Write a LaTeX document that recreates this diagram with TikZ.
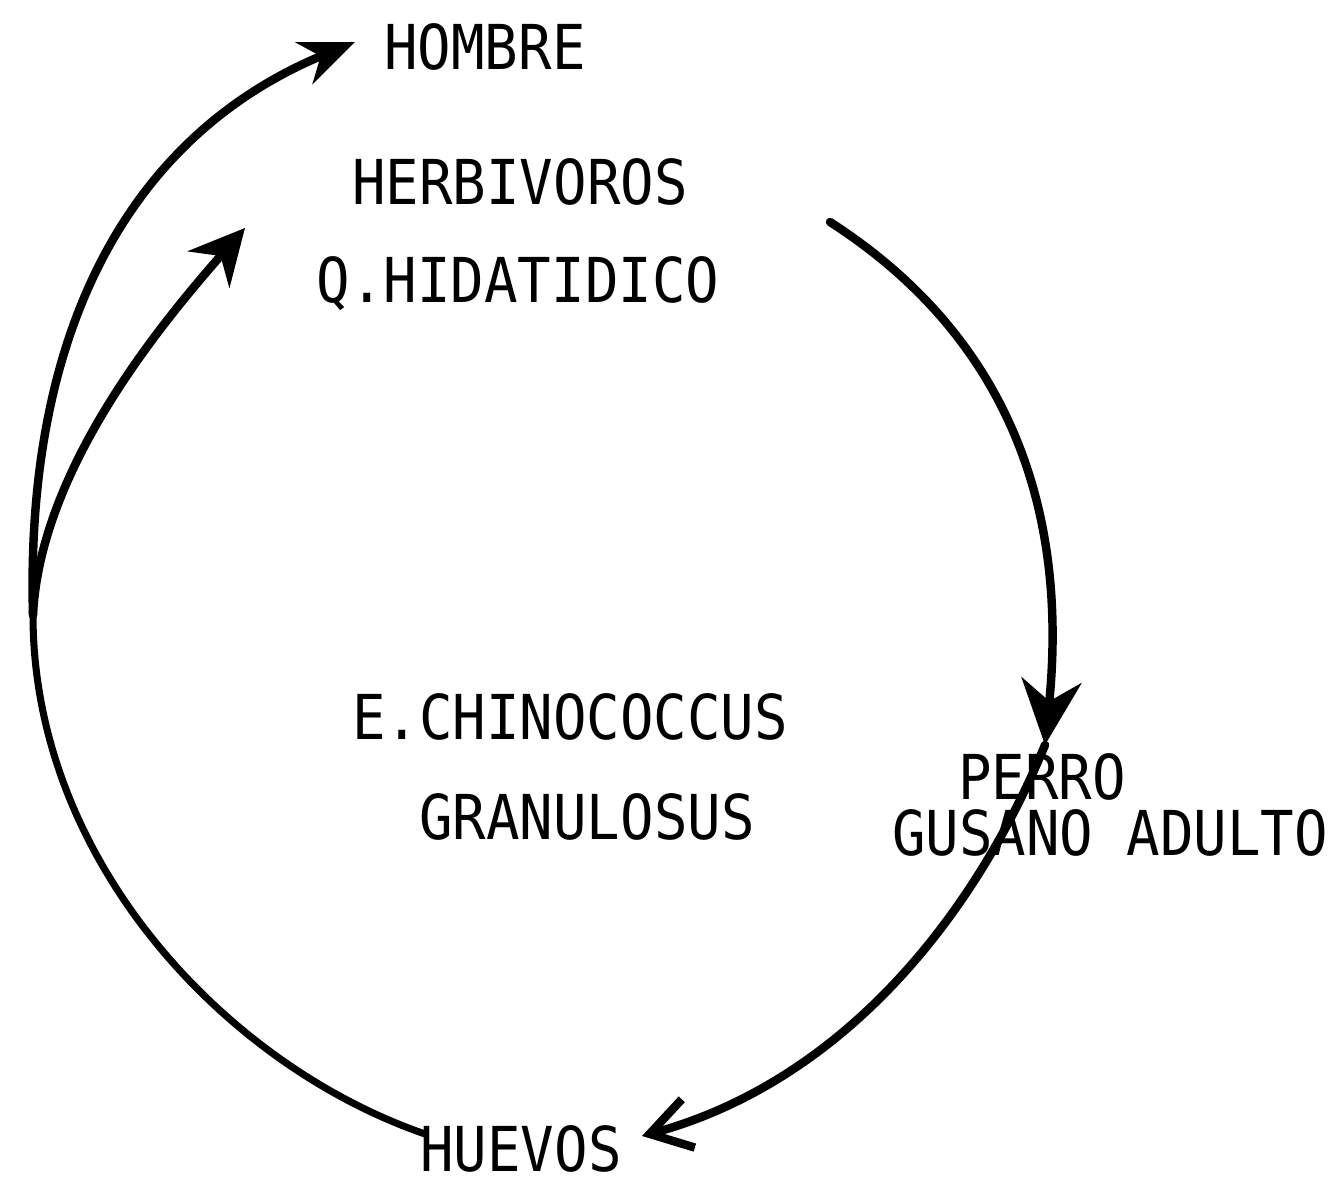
\documentclass[tikz,border=0pt]{standalone}
\usepackage{fontspec}
\newfontfamily\cyclefont{DejaVu Sans Mono}[FakeStretch=0.9]
\usetikzlibrary{arrows.meta}
\begin{document}
\begin{tikzpicture}[x=0.01cm,y=-0.01cm, line join=round, line cap=round,
    lbl/.style={anchor=base,inner sep=0pt,font=\cyclefont\fontsize{17.6}{20}\selectfont},
    cyc/.style={line width=2.4pt}]
            \useasboundingbox (0,0) rectangle (1335,1183);
            % labels
            \node[lbl] (hombre) at (485,70) {HOMBRE};
            \node[lbl] (herb) at (520,205) {HERBIVOROS};
            \node[lbl] (quiste) at (518,303) {Q.HIDATIDICO};
            \node[lbl] (echino) at (570,740) {E.CHINOCOCCUS};
            \node[lbl] (granul) at (587,840) {GRANULOSUS};
            \node[lbl] (perro) at (1042,800) {PERRO};
            \node[lbl] (gusano) at (1110,856) {GUSANO ADULTO};
            \node[lbl,text depth=0pt] (huevos) at (521,1172) {HUEVOS};
            % ends of the arrows
            \coordinate (junc) at (33,615);
            \coordinate (toHom) at (355,42);
            \coordinate (toHerb) at (245,228);
            \coordinate (fromHerb) at (830,222);
            \coordinate (toPerro) at (1045,745);
            \coordinate (toHue) at (642,1136);
            \coordinate (hueL) at (425,1134);
            \draw[cyc,-{Stealth[length=5.5mm,width=4.5mm]}] (junc) .. controls (25,330) and (130,135) .. (toHom);
            \draw[cyc,-{Stealth[length=5.5mm,width=5.5mm]}] (junc) .. controls (40,470) and (160,325) .. (toHerb);
            \draw[cyc,-{Stealth[length=6.5mm,width=6mm]}] (fromHerb) .. controls (998,330) and (1070,495) .. (toPerro);
            \draw[cyc,-{Straight Barb[length=4mm,width=5mm]}] (toPerro) .. controls (969,929) and (834,1084) .. (toHue);
            \draw[cyc,line width=2pt] (hueL) .. controls (225,1065) and (33,860) .. (junc);
\end{tikzpicture}
\end{document}
